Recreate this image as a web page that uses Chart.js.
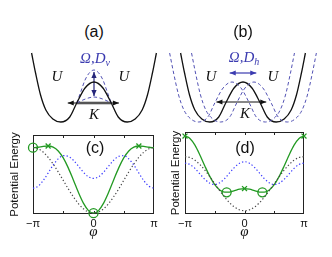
<!DOCTYPE html>
<html>
<head>
<meta charset="utf-8">
<script src="https://cdn.jsdelivr.net/npm/chart.js@4.4.0/dist/chart.umd.min.js"></script>
<style>
  body { margin: 0; background: #fff; }
  #page { position: relative; width: 332px; height: 257px; overflow: hidden; font-family: "Liberation Sans", Arial, sans-serif; }
  .box { position: absolute; }
  .lbl { position: absolute; transform: translate(-50%, -50%); white-space: nowrap; line-height: 1; pointer-events: none; }
  .sym { font-family: "Liberation Serif", serif; font-style: italic; font-size: 15px; color: #111; }
  .tag { font-size: 16px; color: #111; }
  .blue { color: #3b3bb0; }
  sub { font-size: 10px; vertical-align: -3px; }
</style>
</head>
<body>
<div id="page">
  <div class="box" style="left:11px;top:42px;width:166px;height:86px"><canvas id="wellA"></canvas></div>
  <div class="box" style="left:160px;top:42px;width:166px;height:86px"><canvas id="wellB"></canvas></div>
  <div class="box" style="left:0;top:125px;width:166px;height:132px"><canvas id="energyC"></canvas></div>
  <div class="box" style="left:166px;top:125px;width:166px;height:132px"><canvas id="energyD"></canvas></div>

  <div class="lbl tag" style="left:94px;top:32px">(a)</div>
  <div class="lbl tag" style="left:243px;top:32px">(b)</div>
  <div class="lbl sym blue" style="left:95px;top:59px">Ω,D<sub>v</sub></div>
  <div class="lbl sym blue" style="left:244px;top:58px">Ω,D<sub>h</sub></div>
  <div class="lbl sym" style="left:57px;top:76px">U</div>
  <div class="lbl sym" style="left:124px;top:76px">U</div>
  <div class="lbl sym" style="left:211px;top:76px">U</div>
  <div class="lbl sym" style="left:273px;top:76px">U</div>
  <div class="lbl sym" style="left:94px;top:114px">K</div>
  <div class="lbl sym" style="left:245px;top:113px">K</div>
  <div class="lbl tag" style="left:95px;top:148px">(c)</div>
  <div class="lbl tag" style="left:245px;top:148px">(d)</div>
</div>
<script>
// ---- top panels: double well sketch (x in well units, y in energy units)
const wellX = [-1.88, -1.76, -1.61, -1.45, -1.24, -1.0, -0.73, -0.52, -0.27, 0, 0.27, 0.52, 0.73, 1.0, 1.24, 1.45, 1.61, 1.76, 1.88];
const wellY = [6.9, 4.9, 2.7, 1.2, 0.3, 0, 0.5, 1.9, 3.4, 4.0, 3.4, 1.9, 0.5, 0, 0.3, 1.2, 2.7, 4.9, 6.9];

// (a) barrier raised / lowered
const highX = [-0.52, -0.4, -0.27, -0.13, 0, 0.13, 0.27, 0.4, 0.52];
const highY = [1.9, 3.0, 4.2, 4.95, 5.2, 4.95, 4.2, 3.0, 1.9];
const lowX = [-0.52, -0.26, 0, 0.26, 0.52];
const lowY = [1.9, 2.3, 2.5, 2.3, 1.9];

// (b) well shifted left / right
const leftX = [-2.21, -2.09, -1.94, -1.78, -1.57, -1.33, -1.06, -0.85, -0.6, -0.33, -0.06, 0.19, 0.4, 0.67, 0.91, 1.12, 1.28, 1.43, 1.55];
const rightX = [-1.55, -1.43, -1.28, -1.12, -0.91, -0.67, -0.4, -0.19, 0.06, 0.33, 0.6, 0.85, 1.06, 1.33, 1.57, 1.78, 1.94, 2.09, 2.21];

// arrows and K bar
const arrowVX = [0, 0], arrowVY = [5.0, 2.6];
const arrowHX = [-0.4, 0.4], arrowHY = [4.9, 4.9];
const kArrowAX = [-0.79, 0.75], kArrowAY = [1.9, 1.9];
const kBarX = [-0.52, 0.52], kBarY = [1.9, 1.9];
const kArrowBX = [-0.8, 0.7], kArrowBY = [2.0, 2.0];

// ---- bottom panels: phi in units of pi
const phi = [-1, -0.917, -0.833, -0.75, -0.667, -0.583, -0.5, -0.417, -0.333, -0.25, -0.167, -0.083, 0,
             0.083, 0.167, 0.25, 0.333, 0.417, 0.5, 0.583, 0.667, 0.75, 0.833, 0.917, 1];
const tickLabels = ['\u2212\u03c0', '0', '\u03c0'];
const minorTicks = [-0.5, 0, 0.5];

const cBlack = [8.40, 8.26, 7.84, 7.18, 6.33, 5.32, 4.25, 3.18, 2.18, 1.32, 0.66, 0.24, 0.10, 0.24, 0.66, 1.32, 2.18, 3.18, 4.25, 5.32, 6.33, 7.18, 7.84, 8.26, 8.40];
const cBlue = [3.25, 3.51, 4.21, 5.18, 6.19, 6.98, 7.38, 7.30, 6.81, 6.07, 5.29, 4.71, 4.50, 4.71, 5.29, 6.07, 6.81, 7.30, 7.38, 6.98, 6.19, 5.18, 4.21, 3.51, 3.25];
const cGreen = [8.40, 8.45, 8.56, 8.61, 8.46, 7.98, 7.10, 5.84, 4.31, 2.74, 1.37, 0.43, 0.10, 0.43, 1.37, 2.74, 4.31, 5.84, 7.10, 7.98, 8.46, 8.61, 8.56, 8.45, 8.40];
const cCircleX = [-1, 0], cCircleY = [8.40, 0.10];
const cCrossX = [-0.75, 0.75], cCrossY = [8.61, 8.61];

const dBlack = [7.00, 6.89, 6.56, 6.03, 5.35, 4.55, 3.70, 2.85, 2.05, 1.37, 0.84, 0.51, 0.40, 0.51, 0.84, 1.37, 2.05, 2.85, 3.70, 4.55, 5.35, 6.03, 6.56, 6.89, 7.00];
const dBlue = [6.22, 6.04, 5.56, 4.89, 4.24, 3.76, 3.60, 3.80, 4.32, 5.01, 5.69, 6.20, 6.38, 6.20, 5.69, 5.01, 4.32, 3.80, 3.60, 3.76, 4.24, 4.89, 5.56, 6.04, 6.22];
const dGreen = [9.50, 9.21, 8.39, 7.20, 5.86, 4.59, 3.58, 2.93, 2.66, 2.68, 2.85, 3.03, 3.10, 3.03, 2.85, 2.68, 2.66, 2.93, 3.58, 4.59, 5.86, 7.20, 8.39, 9.21, 9.50];
const dCircleX = [-0.3, 0.3], dCircleY = [2.64, 2.64];
const dCrossX = [-1, 0, 1], dCrossY = [9.50, 3.10, 9.50];

const GREEN = '#239a23';
const BLUE = '#3a3aff';
const DASH_BLUE = '#5252b4';

function pts(xs, ys) {
  return xs.map((x, i) => ({ x: x, y: ys[i] }));
}

function drawHead(ctx, x, y, ang, color) {
  ctx.save();
  ctx.translate(x, y);
  ctx.rotate(ang);
  ctx.beginPath();
  ctx.moveTo(0, 0);
  ctx.lineTo(-6, -2.6);
  ctx.lineTo(-6, 2.6);
  ctx.closePath();
  ctx.fillStyle = color;
  ctx.fill();
  ctx.restore();
}

// arrow heads on both ends of flagged datasets
const arrowPlugin = {
  id: 'arrowHeads',
  afterDatasetsDraw(chart) {
    const ctx = chart.ctx;
    chart.data.datasets.forEach((ds, i) => {
      if (!ds.arrowHeads) return;
      const p = chart.getDatasetMeta(i).data;
      const a = p[0], b = p[p.length - 1];
      drawHead(ctx, b.x, b.y, Math.atan2(b.y - a.y, b.x - a.x), ds.headColor);
      drawHead(ctx, a.x, a.y, Math.atan2(a.y - b.y, a.x - b.x), ds.headColor);
    });
  }
};

// box around plot + small inward ticks
const framePlugin = {
  id: 'frame',
  beforeDatasetsDraw(chart) {
    const { ctx, chartArea: a } = chart;
    const x = chart.scales.x;
    ctx.save();
    ctx.strokeStyle = '#222';
    ctx.lineWidth = 1;
    ctx.strokeRect(a.left + 0.5, a.top + 0.5, a.right - a.left - 1, a.bottom - a.top - 1);
    ctx.beginPath();
    minorTicks.forEach(v => {
      const px = Math.round(x.getPixelForValue(v)) + 0.5;
      ctx.moveTo(px, a.top); ctx.lineTo(px, a.top + 3);
      ctx.moveTo(px, a.bottom); ctx.lineTo(px, a.bottom - 3);
    });
    ctx.stroke();
    ctx.restore();
  }
};

function line(data, color, width, dash) {
  return {
    data: data, borderColor: color, borderWidth: width, borderDash: dash || [],
    pointRadius: 0, tension: 0.4, cubicInterpolationMode: 'monotone', fill: false, clip: false
  };
}

function wellChart(id, datasets) {
  new Chart(document.getElementById(id), {
    type: 'line',
    data: { datasets: datasets },
    options: {
      responsive: true, maintainAspectRatio: false, animation: false,
      layout: { padding: 0 },
      plugins: { legend: { display: false }, tooltip: { enabled: false } },
      scales: {
        x: { type: 'linear', min: -2.5, max: 2.5, display: false },
        y: { min: -0.6, max: 8, display: false }
      }
    },
    plugins: [arrowPlugin]
  });
}

wellChart('wellA', [
  line(pts(wellX, wellY), '#111', 1.3),
  line(pts(highX, highY), DASH_BLUE, 1, [3.5, 2.5]),
  line(pts(lowX, lowY), DASH_BLUE, 1, [3.5, 2.5]),
  Object.assign(line(pts(kArrowAX, kArrowAY), '#111', 1), { tension: 0, arrowHeads: true, headColor: '#111' }),
  Object.assign(line(pts(kBarX, kBarY), '#9a9a9a', 3), { tension: 0 }),
  Object.assign(line(pts(arrowVX, arrowVY), '#26267a', 1.2), { tension: 0, arrowHeads: true, headColor: '#26267a' })
]);

wellChart('wellB', [
  line(pts(leftX, wellY), DASH_BLUE, 1, [3.5, 2.5]),
  line(pts(rightX, wellY), DASH_BLUE, 1, [3.5, 2.5]),
  line(pts(wellX, wellY), '#111', 1.3),
  Object.assign(line(pts(kArrowBX, kArrowBY), '#111', 1), { tension: 0, arrowHeads: true, headColor: '#111' }),
  Object.assign(line(pts(arrowHX, arrowHY), '#3b3bb0', 1.2), { tension: 0, arrowHeads: true, headColor: '#3b3bb0' })
]);

function marks(xs, ys, style, radius) {
  return {
    data: pts(xs, ys), showLine: false, pointStyle: style, pointRadius: radius,
    pointBorderColor: GREEN, pointBackgroundColor: 'rgba(0,0,0,0)', pointBorderWidth: 1.3, clip: false
  };
}

function energyChart(id, black, blue, green, extra, yWidth, titlePad, pad) {
  new Chart(document.getElementById(id), {
    type: 'line',
    data: {
      datasets: [
        line(pts(phi, black), '#4a4a4a', 1.2, [1.3, 2.2]),
        line(pts(phi, blue), BLUE, 1.2, [1.3, 2.2]),
        line(pts(phi, green), GREEN, 1.3)
      ].concat(extra)
    },
    options: {
      responsive: true, maintainAspectRatio: false, animation: false,
      layout: { padding: pad },
      plugins: { legend: { display: false }, tooltip: { enabled: false } },
      scales: {
        x: {
          type: 'linear', min: -1, max: 1,
          grid: { display: false, drawTicks: false },
          border: { display: false },
          afterFit: s => { s.height = 43; },
          afterBuildTicks: s => { s.ticks = [-1, 0, 1].map(v => ({ value: v })); },
          ticks: {
            padding: 3, color: '#111', maxRotation: 0, autoSkip: false,
            font: { family: 'Liberation Sans', size: 11 },
            callback: v => tickLabels[[-1, 0, 1].indexOf(v)]
          },
          title: {
            display: true, text: '\u03c6', color: '#111',
            font: { family: 'Liberation Serif', style: 'italic', size: 15 },
            padding: { top: 0, bottom: 16 }
          }
        },
        y: {
          min: 0, max: 10,
          grid: { display: false, drawTicks: false },
          border: { display: false },
          ticks: { display: false },
          afterFit: s => { s.width = yWidth; },
          title: {
            display: true, text: 'Potential Energy', color: '#111',
            font: { family: 'Liberation Sans', size: 11.5 },
            padding: { top: titlePad, bottom: 0 }
          }
        }
      }
    },
    plugins: [framePlugin]
  });
}

energyChart('energyC', cBlack, cBlue, cGreen, [
  marks(cCircleX, cCircleY, 'circle', 4.5),
  marks(cCrossX, cCrossY, 'crossRot', 3.5)
], 33, 8, { top: 10, right: 12, left: 0, bottom: 0 });

energyChart('energyD', dBlack, dBlue, dGreen, [
  marks(dCircleX, dCircleY, 'circle', 4.5),
  marks(dCrossX, dCrossY, 'crossRot', 3.5)
], 19, 3, { top: 7, right: 28, left: 0, bottom: 0 });
</script>
</body>
</html>
